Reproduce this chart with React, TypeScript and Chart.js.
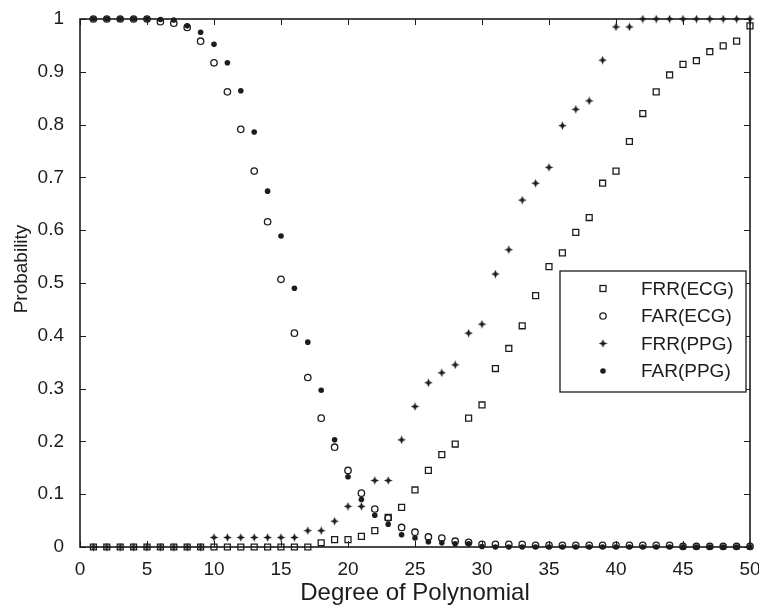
import React, { useEffect, useRef } from 'react';
import { Chart, registerables } from 'chart.js';

Chart.register(...registerables);

// ---------- data ----------
const degrees = [
  1, 2, 3, 4, 5, 6, 7, 8, 9, 10,
  11, 12, 13, 14, 15, 16, 17, 18, 19, 20,
  21, 22, 23, 24, 25, 26, 27, 28, 29, 30,
  31, 32, 33, 34, 35, 36, 37, 38, 39, 40,
  41, 42, 43, 44, 45, 46, 47, 48, 49, 50,
];

const frrEcg = [
  0, 0, 0, 0, 0, 0, 0, 0, 0, 0,
  0, 0, 0, 0, 0, 0, 0, 0.008, 0.014, 0.014,
  0.02, 0.031, 0.056, 0.075, 0.108, 0.145, 0.175, 0.195, 0.244, 0.269,
  0.338, 0.376, 0.419, 0.476, 0.531, 0.557, 0.596, 0.624, 0.689, 0.712,
  0.768, 0.821, 0.862, 0.894, 0.914, 0.921, 0.938, 0.949, 0.958, 0.987,
];

const farEcg = [
  1, 1, 1, 1, 1, 0.995, 0.992, 0.984, 0.958, 0.917,
  0.862, 0.791, 0.712, 0.616, 0.507, 0.405, 0.321, 0.244, 0.189, 0.145,
  0.102, 0.072, 0.055, 0.037, 0.028, 0.019, 0.017, 0.011, 0.009, 0.005,
  0.005, 0.005, 0.005, 0.003, 0.003, 0.003, 0.003, 0.003, 0.003, 0.003,
  0.003, 0.003, 0.003, 0.003, 0.001, 0.001, 0.001, 0.001, 0.001, 0.001,
];

const frrPpg = [
  0, 0, 0, 0, 0, 0, 0, 0, 0, 0.018,
  0.018, 0.018, 0.018, 0.018, 0.018, 0.018, 0.031, 0.031, 0.049, 0.077,
  0.077, 0.126, 0.126, 0.203, 0.266, 0.311, 0.33, 0.345, 0.405, 0.422,
  0.517, 0.563, 0.657, 0.689, 0.719, 0.798, 0.829, 0.845, 0.922, 0.985,
  0.985, 1, 1, 1, 1, 1, 1, 1, 1, 1,
];

const farPpg = [
  1, 1, 1, 1, 1, 0.999, 0.998, 0.987, 0.975, 0.952,
  0.917, 0.864, 0.786, 0.674, 0.589, 0.49, 0.388, 0.297, 0.203, 0.133,
  0.09, 0.06, 0.043, 0.023, 0.017, 0.01, 0.008, 0.006, 0.006, 0.001,
  0, 0, 0, 0, 0, 0, 0, 0, 0, 0,
  0, 0, 0, 0, 0, 0, 0, 0, 0, 0,
];

const seriesNames = ['FRR(ECG)', 'FAR(ECG)', 'FRR(PPG)', 'FAR(PPG)'];
const xTickLabels = ['0', '5', '10', '15', '20', '25', '30', '35', '40', '45', '50'];
const yTickLabels = ['0', '0.1', '0.2', '0.3', '0.4', '0.5', '0.6', '0.7', '0.8', '0.9', '1'];
const xTitle = 'Degree of Polynomial';
const yTitle = 'Probability';

// ---------- styles ----------
const INK = '#1c1c1c';
const FONT = "'Liberation Sans', Arial, Helvetica, sans-serif";
const TICK_SIZE = 19;

function makeStar(): HTMLCanvasElement {
  const c = document.createElement('canvas');
  c.width = 9;
  c.height = 9;
  const g = c.getContext('2d')!;
  g.fillStyle = INK;
  g.beginPath();
  g.moveTo(4.5, 0.2);
  g.lineTo(5.8, 3.2);
  g.lineTo(8.8, 4.5);
  g.lineTo(5.8, 5.8);
  g.lineTo(4.5, 8.8);
  g.lineTo(3.2, 5.8);
  g.lineTo(0.2, 4.5);
  g.lineTo(3.2, 3.2);
  g.closePath();
  g.fill();
  return c;
}

const toPoints = (vals: number[]) => degrees.map((d, i) => ({ x: d, y: vals[i] }));

type MarkerKind = 'square' | 'ring' | 'star' | 'dot';
const markerKinds: MarkerKind[] = ['square', 'ring', 'star', 'dot'];

function drawMarker(ctx: CanvasRenderingContext2D, kind: MarkerKind, x: number, y: number, star: HTMLCanvasElement) {
  ctx.save();
  ctx.strokeStyle = INK;
  ctx.fillStyle = INK;
  ctx.lineWidth = 1.3;
  if (kind === 'square') {
    ctx.strokeRect(x - 3, y - 3, 6, 6);
  } else if (kind === 'ring') {
    ctx.beginPath();
    ctx.arc(x, y, 3.2, 0, Math.PI * 2);
    ctx.stroke();
  } else if (kind === 'star') {
    ctx.drawImage(star, x - star.width / 2, y - star.height / 2);
  } else {
    ctx.beginPath();
    ctx.arc(x, y, 2.8, 0, Math.PI * 2);
    ctx.fill();
  }
  ctx.restore();
}

export default function App() {
  const canvasRef = useRef<HTMLCanvasElement | null>(null);

  useEffect(() => {
    document.body.style.margin = '0';
    document.body.style.background = '#ffffff';
    const canvas = canvasRef.current;
    if (!canvas) return;
    const star = makeStar();

    const framePlugin = {
      id: 'matlabFrame',
      beforeDatasetsDraw(chart: any) {
        const { ctx, chartArea: a, scales } = chart;
        ctx.save();
        ctx.strokeStyle = INK;
        ctx.lineWidth = 1;
        const tl = 6;
        ctx.beginPath();
        for (const t of scales.x.ticks) {
          const px = Math.round(scales.x.getPixelForValue(t.value)) + 0.5;
          ctx.moveTo(px, a.bottom);
          ctx.lineTo(px, a.bottom - tl);
          ctx.moveTo(px, a.top);
          ctx.lineTo(px, a.top + tl);
        }
        for (const t of scales.y.ticks) {
          const py = Math.round(scales.y.getPixelForValue(t.value)) + 0.5;
          ctx.moveTo(a.left, py);
          ctx.lineTo(a.left + tl, py);
          ctx.moveTo(a.right, py);
          ctx.lineTo(a.right - tl, py);
        }
        ctx.stroke();
        ctx.lineWidth = 1.6;
        ctx.strokeRect(a.left, a.top, a.right - a.left, a.bottom - a.top);
        ctx.restore();
      },
      afterDraw(chart: any) {
        const { ctx, chartArea: a } = chart;
        // y axis title
        ctx.save();
        ctx.fillStyle = INK;
        ctx.font = `${TICK_SIZE}px ${FONT}`;
        ctx.textAlign = 'center';
        ctx.textBaseline = 'middle';
        ctx.translate(a.left - 58, (a.top + a.bottom) / 2 - 14);
        ctx.rotate(-Math.PI / 2);
        ctx.fillText(yTitle, 0, 0);
        ctx.restore();

        // legend
        const boxW = 186;
        const boxH = 121;
        const boxR = a.right - 4;
        const boxL = boxR - boxW;
        const boxT = a.top + 252;
        ctx.save();
        ctx.fillStyle = '#ffffff';
        ctx.fillRect(boxL, boxT, boxW, boxH);
        ctx.strokeStyle = INK;
        ctx.lineWidth = 1.3;
        ctx.strokeRect(boxL, boxT, boxW, boxH);
        ctx.font = `${TICK_SIZE}px ${FONT}`;
        ctx.textAlign = 'left';
        ctx.textBaseline = 'middle';
        ctx.fillStyle = INK;
        seriesNames.forEach((name, i) => {
          const cy = boxT + 18.5 + i * 27.5;
          drawMarker(ctx, markerKinds[i], boxL + 43, cy - 1, star);
          ctx.fillStyle = INK;
          ctx.fillText(name, boxL + 81, cy);
        });
        ctx.restore();
      },
    };

    const chart = new Chart(canvas, {
      type: 'scatter',
      data: {
        datasets: [
          {
            label: seriesNames[0],
            data: toPoints(frrEcg),
            pointStyle: 'rect',
            pointRadius: 4.2,
            pointBorderWidth: 1.3,
            borderColor: INK,
            backgroundColor: 'rgba(0,0,0,0)',
            order: 3,
            clip: false,
          },
          {
            label: seriesNames[1],
            data: toPoints(farEcg),
            pointStyle: 'circle',
            pointRadius: 3.2,
            pointBorderWidth: 1.3,
            borderColor: INK,
            backgroundColor: 'rgba(0,0,0,0)',
            order: 2,
            clip: false,
          },
          {
            label: seriesNames[2],
            data: toPoints(frrPpg),
            pointStyle: star,
            pointRadius: 4,
            borderColor: INK,
            backgroundColor: INK,
            order: 1,
            clip: false,
          },
          {
            label: seriesNames[3],
            data: toPoints(farPpg),
            pointStyle: 'circle',
            pointRadius: 2.8,
            pointBorderWidth: 0,
            borderColor: INK,
            backgroundColor: INK,
            order: 0,
            clip: false,
          },
        ],
      } as any,
      options: {
        responsive: false,
        animation: false,
        devicePixelRatio: 1,
        layout: { padding: { top: 19, right: 9, left: 0, bottom: 0 } },
        plugins: {
          legend: { display: false },
          tooltip: { enabled: false },
        },
        scales: {
          x: {
            type: 'linear',
            min: 0,
            max: 50,
            grid: { display: false },
            border: { display: false },
            ticks: {
              stepSize: 5,
              autoSkip: false,
              maxRotation: 0,
              padding: 3,
              color: INK,
              font: { family: FONT, size: TICK_SIZE },
              callback: (_v: any, i: number) => xTickLabels[i],
            },
            title: {
              display: true,
              text: xTitle,
              color: INK,
              font: { family: FONT, size: 24 },
              padding: { top: 0, bottom: 1 },
            },
            afterFit: (s: any) => {
              s.height = 62;
              s.paddingLeft = 0;
              s.paddingRight = 0;
            },
          },
          y: {
            type: 'linear',
            min: 0,
            max: 1,
            grid: { display: false },
            border: { display: false },
            ticks: {
              stepSize: 0.1,
              autoSkip: false,
              padding: 8,
              color: INK,
              font: { family: FONT, size: TICK_SIZE },
              callback: (_v: any, i: number) => yTickLabels[i],
            },
            afterFit: (s: any) => {
              s.width = 80;
              s.paddingTop = 0;
              s.paddingBottom = 0;
            },
          },
        },
      } as any,
      plugins: [framePlugin],
    });

    return () => {
      chart.destroy();
    };
  }, []);

  return (
    <div style={{ width: 759, height: 609, background: '#ffffff' }}>
      <canvas ref={canvasRef} width={759} height={609} style={{ display: 'block' }} />
    </div>
  );
}
